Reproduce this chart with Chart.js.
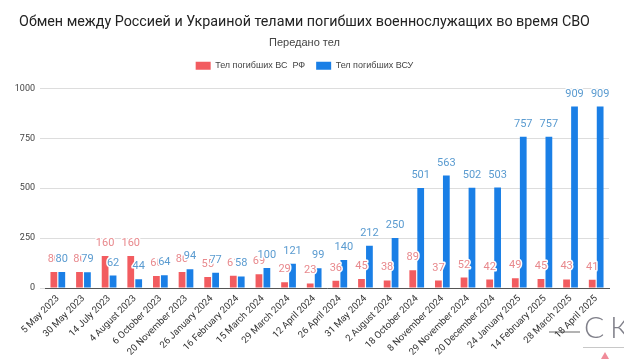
<!DOCTYPE html>
<html><head><meta charset="utf-8">
<script src="https://cdn.jsdelivr.net/npm/chart.js@4"></script>
<style>html,body{margin:0;padding:0;background:#fff;}</style>
</head><body>
<canvas id="c" width="624" height="359"></canvas>
<script>
const categories = ['5 May 2023', '30 May 2023', '14 July 2023', '4 August 2023', '6 October 2023', '20 November 2023', '26 January 2024', '16 February 2024', '15 March 2024', '29 March 2024', '12 April 2024', '26 April 2024', '31 May 2024', '2 August 2024', '18 October 2024', '8 November 2024', '29 November 2024', '20 December 2024', '24 January 2025', '14 February 2025', '28 March 2025', '18 April 2025'];
const rfBodies = [80, 80, 160, 160, 60, 80, 55, 61, 69, 29, 23, 36, 45, 38, 89, 37, 52, 42, 49, 45, 43, 41];
const afuBodies = [80, 79, 62, 44, 64, 94, 77, 58, 100, 121, 99, 140, 212, 250, 501, 563, 502, 503, 757, 757, 909, 909];
const yTicks = [0, 250, 500, 750, 1000];
const seriesNames = ['Тел погибших ВС  РФ', 'Тел погибших ВСУ'];

const legendSpacer = {
  id: 'legendSpacer',
  beforeInit(chart) {
    const orig = chart.legend.fit;
    chart.legend.fit = function () {
      orig.bind(chart.legend)();
      this.height += 8;
    };
  }
};

const valueLabels = {
  id: 'valueLabels',
  afterDatasetsDraw(chart) {
    const ctx = chart.ctx;
    ctx.save();
    ctx.font = '11px Roboto';
    ctx.textAlign = 'center';
    ctx.textBaseline = 'alphabetic';
    ctx.lineJoin = 'round';
    ctx.lineWidth = 3;
    ctx.strokeStyle = '#ffffff';
    chart.data.datasets.forEach((ds, i) => {
      const meta = chart.getDatasetMeta(i);
      meta.data.forEach((bar, j) => {
        const t = String(ds.data[j]);
        const y = bar.y - 10;
        ctx.strokeText(t, bar.x, y);
        ctx.fillStyle = ds.labelColor;
        ctx.fillText(t, bar.x, y);
      });
    });
    ctx.restore();
  }
};

const watermark = {
  id: 'watermark',
  beforeDraw(chart) {
    const ctx = chart.ctx;
    ctx.save();
    ctx.strokeStyle = '#9a9a9a';
    ctx.lineWidth = 1.5;
    ctx.beginPath(); ctx.moveTo(549, 332); ctx.lineTo(580, 332); ctx.stroke();
    ctx.restore();
  },
  afterDraw(chart) {
    const ctx = chart.ctx;
    ctx.save();
    ctx.font = '300 30px Lato';
    ctx.fillStyle = '#80808a';
    ctx.textBaseline = 'alphabetic';
    ctx.textAlign = 'left';
    ctx.fillText('С', 584, 338);
    ctx.fillText('К', 610, 338);
    ctx.strokeStyle = '#c8c8c8';
    ctx.lineWidth = 1;
    ctx.beginPath(); ctx.moveTo(583, 347.5); ctx.lineTo(624, 347.5); ctx.stroke();
    ctx.fillStyle = '#f08c9a';
    ctx.beginPath(); ctx.moveTo(601, 359); ctx.lineTo(605, 352); ctx.lineTo(609, 359); ctx.closePath(); ctx.fill();
    ctx.restore();
  }
};

new Chart(document.getElementById('c'), {
  type: 'bar',
  data: {
    labels: categories,
    datasets: [
      { label: seriesNames[0], data: rfBodies, backgroundColor: '#f25c60', labelColor: '#e8898d', categoryPercentage: 0.62, barPercentage: 0.85 },
      { label: seriesNames[1], data: afuBodies, backgroundColor: '#1a7fe6', labelColor: '#5a9bd0', categoryPercentage: 0.62, barPercentage: 0.85 }
    ]
  },
  options: {
    responsive: false,
    animation: false,
    devicePixelRatio: 1,
    layout: { padding: { left: 0, right: 15, top: 0, bottom: 0 } },
    plugins: {
      title: {
        display: true,
        text: 'Обмен между Россией и Украиной телами погибших военнослужащих во время СВО',
        color: '#222',
        font: { family: 'Roboto', size: 14.3, weight: 'normal', lineHeight: 1.27 },
        padding: { top: 13.5, bottom: 0 }
      },
      subtitle: {
        display: true,
        text: 'Передано тел',
        color: '#444',
        font: { family: 'Liberation Sans', size: 11, weight: 'normal', lineHeight: 1.2 },
        padding: { top: 4.5, bottom: 1 }
      },
      legend: {
        display: true,
        position: 'top',
        labels: {
          usePointStyle: true, pointStyle: 'rect', pointStyleWidth: 15,
          boxWidth: 8, boxHeight: 8, padding: 11,
          color: '#444',
          font: { family: 'Liberation Sans', size: 9 }
        }
      },
      tooltip: { enabled: false }
    },
    scales: {
      x: {
        grid: { display: false, drawTicks: false },
        border: { display: true, color: '#555', width: 1 },
        ticks: {
          autoSkip: false, maxRotation: 45, minRotation: 45, padding: 5, labelOffset: 0,
          color: '#333', font: { family: 'Roboto', size: 9.5 }
        },
        afterFit(s) { s.height = 71; }
      },
      y: {
        min: 0, max: 1000,
        afterBuildTicks(s) { s.ticks = yTicks.map(v => ({ value: v })); },
        grid: { color: '#dddddd', lineWidth: 1, drawTicks: true, tickLength: 5 },
        border: { display: false },
        ticks: { padding: 5, color: '#444', font: { family: 'Roboto', size: 9 }, callback: v => String(v) },
        afterFit(s) { s.width = 45; }
      }
    }
  },
  plugins: [legendSpacer, valueLabels, watermark]
});
</script>
</body></html>
